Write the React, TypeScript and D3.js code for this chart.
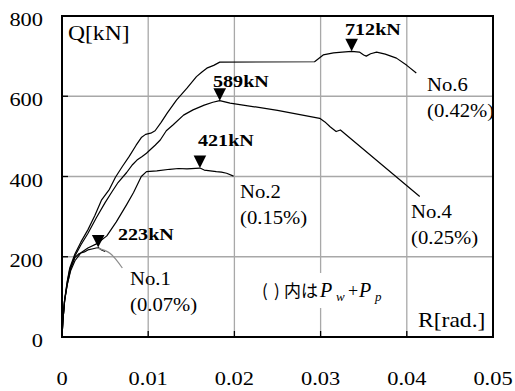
import React from 'react';
import * as d3 from 'd3';

// R [rad.] and Q [kN], one pair of arrays per specimen
const no1R = [0, 0.0001, 0.0003, 0.0006, 0.001, 0.0015, 0.002, 0.0026, 0.003, 0.0036, 0.0042, 0.0046, 0.005];
const no1Q = [0, 40, 90, 130, 170, 198, 208, 212, 217, 220, 223, 217, 213];

const no2R = [0, 0.0001, 0.0003, 0.0006, 0.001, 0.0015, 0.0022, 0.003, 0.004, 0.0052, 0.0063, 0.0075, 0.0083, 0.0092, 0.0098, 0.011, 0.0125, 0.0135, 0.0145, 0.016, 0.0165, 0.0172, 0.0179, 0.0185, 0.0191, 0.0199];
const no2Q = [0, 40, 90, 130, 165, 190, 210, 222, 232, 252, 287, 330, 360, 400, 412, 414, 418, 420, 419, 421, 416, 414, 412, 411, 408, 401];

const no4R = [0, 0.0001, 0.0003, 0.0006, 0.0009, 0.0015, 0.0022, 0.003, 0.004, 0.005, 0.0058, 0.0065, 0.0075, 0.0082, 0.0087, 0.0093, 0.0098, 0.0102, 0.0108, 0.0114, 0.0121, 0.0129, 0.0141, 0.0152, 0.0165, 0.0175, 0.0183, 0.0195, 0.025, 0.0299, 0.0305, 0.0311, 0.0318, 0.0323, 0.0415];
const no4Q = [0, 40, 90, 135, 168, 202, 230, 258, 298, 335, 362, 385, 410, 430, 441, 450, 458, 466, 478, 491, 514, 529, 553, 566, 578, 585, 589, 583, 565, 545, 536, 524, 512, 516, 350];

const no6R = [0, 0.0001, 0.0003, 0.0006, 0.0009, 0.0015, 0.0022, 0.003, 0.0038, 0.0046, 0.0055, 0.0062, 0.007, 0.0078, 0.0086, 0.0092, 0.0097, 0.0103, 0.0108, 0.0115, 0.0122, 0.0133, 0.0145, 0.0156, 0.0162, 0.0168, 0.0176, 0.0183, 0.0293, 0.0303, 0.0315, 0.0325, 0.0336, 0.0345, 0.035, 0.0353, 0.0358, 0.0365, 0.0375, 0.0388, 0.04, 0.0411];
const no6Q = [0, 40, 92, 138, 172, 207, 237, 267, 302, 342, 368, 398, 425, 450, 478, 497, 505, 508, 514, 535, 558, 591, 620, 649, 660, 670, 677, 685, 686, 703, 708, 710, 712, 710, 703, 700, 706, 710, 705, 695, 677, 658];

// peak markers
const peakR = [0.0042, 0.016, 0.0183, 0.0336];
const peakQ = [223, 421, 589, 712];
const peakText = ['223kN', '421kN', '589kN', '712kN'];

const specimens = ['No.1', 'No.2', 'No.4', 'No.6'];
const ratios = ['(0.07%)', '(0.15%)', '(0.25%)', '(0.42%)'];

const xTicks = [0, 0.01, 0.02, 0.03, 0.04, 0.05];
const xTickLabels = ['0', '0.01', '0.02', '0.03', '0.04', '0.05'];
const yTicks = [0, 200, 400, 600, 800];

// leader line from No.1 curve to its label (data units)
const leaderR = [0.004, 0.0056, 0.007];
const leaderQ = [222, 208, 172];

const W = 515, H = 391;
const SX = 1.15; // the reference text is a bit wide
const serif = 'Liberation Serif, Times New Roman, Times, serif';
const cjk = 'Noto Sans CJK JP, sans-serif';

const T = ({ x, y, size, anchor = 'start', bold = false, children }: any) => (
  <text
    transform={`translate(${x},${y}) scale(${SX},1)`}
    style={{ fontFamily: serif, fontSize: size, fontWeight: bold ? 700 : 400 }}
    textAnchor={anchor}
    fill="#000"
  >
    {children}
  </text>
);

const App = () => {
  const x = d3.scaleLinear().domain([0, 0.05]).range([62, 493]);
  const y = d3.scaleLinear().domain([0, 800]).range([337, 16]);

  const line = d3.line<[number, number]>().x(d => x(d[0])).y(d => y(d[1]));
  const zip = (a: number[], b: number[]) => a.map((v, i) => [v, b[i]] as [number, number]);
  const series = [zip(no1R, no1Q), zip(no2R, no2Q), zip(no4R, no4Q), zip(no6R, no6Q)];

  const leader = d3.line<[number, number]>().x(d => x(d[0])).y(d => y(d[1])).curve(d3.curveNatural);

  // label anchors (px)
  const labelPos = [[130, 285], [240, 198], [411, 218], [427, 91]];
  const peakTextPos = [[118, 240], [198, 146], [213, 87], [345, 35]];

  const [x0, x1] = x.range();
  const [y0, y1] = y.range();
  const nb = 297; // note baseline

  return (
    <svg width={W} height={H} style={{ position: 'absolute', left: 0, top: 0, background: '#fff' }}>
      <rect x={0} y={0} width={W} height={H} fill="#fff" />
      {/* grid */}
      {xTicks.slice(1, -1).map(t => (
        <line key={'gx' + t} x1={x(t)} x2={x(t)} y1={y1} y2={y0} stroke="#a8a8a8" strokeWidth={1.3} />
      ))}
      {yTicks.slice(1, -1).map(t => (
        <line key={'gy' + t} x1={x0} x2={x1} y1={y(t)} y2={y(t)} stroke="#a8a8a8" strokeWidth={1.3} />
      ))}
      {/* inward ticks */}
      {xTicks.slice(1, -1).map(t => (
        <line key={'tx' + t} x1={x(t)} x2={x(t)} y1={y0} y2={y0 - 6} stroke="#000" strokeWidth={1.3} />
      ))}
      {yTicks.slice(1, -1).map(t => (
        <line key={'ty' + t} x1={x0} x2={x0 + 6} y1={y(t)} y2={y(t)} stroke="#000" strokeWidth={1.3} />
      ))}

      {/* note box hides grid behind it */}
      <rect x={257} y={273} width={130} height={35} fill="#fff" />
      <text fill="#000">
        <tspan x={262} y={nb} style={{ fontFamily: cjk, fontSize: 17 }}>(</tspan>
        <tspan x={274} y={nb} style={{ fontFamily: cjk, fontSize: 17 }}>)</tspan>
        <tspan x={284} y={nb} style={{ fontFamily: cjk, fontSize: 17 }}>内は</tspan>
        <tspan x={320} y={nb} style={{ fontFamily: serif, fontStyle: 'italic', fontSize: 20 }}>P</tspan>
        <tspan x={336} y={nb + 4} style={{ fontFamily: serif, fontStyle: 'italic', fontSize: 13 }}>w</tspan>
        <tspan x={348} y={nb} style={{ fontFamily: serif, fontSize: 18 }}>+</tspan>
        <tspan x={359} y={nb} style={{ fontFamily: serif, fontStyle: 'italic', fontSize: 20 }}>P</tspan>
        <tspan x={375} y={nb + 4} style={{ fontFamily: serif, fontStyle: 'italic', fontSize: 13 }}>p</tspan>
      </text>

      {/* curves */}
      {series.map((s, i) => (
        <path key={'s' + i} d={line(s) || ''} fill="none" stroke="#000" strokeWidth={1.2} strokeLinejoin="round" />
      ))}
      <path d={leader(zip(leaderR, leaderQ)) || ''} fill="none" stroke="#8c8c8c" strokeWidth={1.2} />

      {/* peak markers */}
      {peakR.map((r, i) => {
        const px = x(r), py = y(peakQ[i]);
        return (
          <path key={'p' + i} d={`M${px - 6.3},${py - 12.5}L${px + 6.3},${py - 12.5}L${px},${py}Z`} fill="#000" />
        );
      })}
      {peakText.map((t, i) => (
        <T key={'pt' + i} x={peakTextPos[i][0]} y={peakTextPos[i][1]} size={17.5} bold>{t}</T>
      ))}

      {/* specimen labels */}
      {specimens.map((s, i) => (
        <g key={'l' + i}>
          <T x={labelPos[i][0]} y={labelPos[i][1]} size={18}>{s}</T>
          <T x={labelPos[i][0]} y={labelPos[i][1] + 26} size={18}>{ratios[i]}</T>
        </g>
      ))}

      {/* frame */}
      <rect x={x0} y={y1} width={x1 - x0} height={y0 - y1} fill="none" stroke="#000" strokeWidth={2} />

      {/* axis labels */}
      {yTicks.map(t => (
        <T key={'yl' + t} x={43} y={y(t) + 10} size={19.5} anchor="end">{t}</T>
      ))}
      {xTicks.map((t, i) => (
        <T key={'xl' + t} x={x(t)} y={385} size={19.5} anchor="middle">{xTickLabels[i]}</T>
      ))}
      <T x={68} y={40} size={20.5}>Q[kN]</T>
      <T x={418} y={327} size={20.5}>R[rad.]</T>
    </svg>
  );
};

export default App;
